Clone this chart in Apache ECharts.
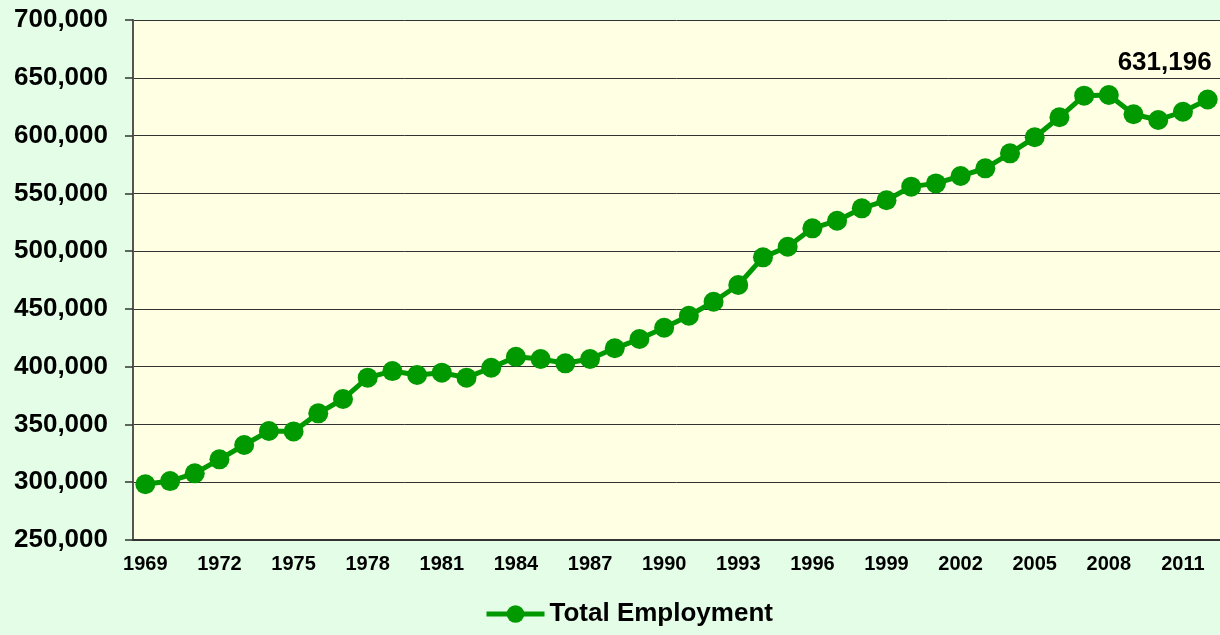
<!DOCTYPE html>
<html>
<head>
<meta charset="utf-8">
<script src="https://cdn.jsdelivr.net/npm/echarts@6/dist/echarts.min.js"></script>
<style>
  html, body { margin: 0; padding: 0; background: #e3fde6; }
  #chart { width: 1220px; height: 635px; }
</style>
</head>
<body>
<div id="chart"></div>
<script>
// years 1969 - 2012
const years = [
  '1969', '1970', '1971', '1972', '1973', '1974', '1975', '1976', '1977', '1978',
  '1979', '1980', '1981', '1982', '1983', '1984', '1985', '1986', '1987', '1988',
  '1989', '1990', '1991', '1992', '1993', '1994', '1995', '1996', '1997', '1998',
  '1999', '2000', '2001', '2002', '2003', '2004', '2005', '2006', '2007', '2008',
  '2009', '2010', '2011', '2012'
]

const totalEmployment = [
  298200, 301000, 307700, 319800, 332200, 344300, 344000, 359600, 372000, 390500,
  396200, 392800, 394800, 390500, 399100, 408500, 406600, 402900, 406600, 415900,
  423900, 433700, 444100, 456200, 470700, 494600, 503800, 519700, 526300, 537000,
  544000, 555800, 558600, 565000, 571600, 584600, 598500, 615800, 634500, 635100,
  618400, 613500, 620600, 631196
]

const fontFamily = '"Liberation Sans", Arial, sans-serif'
const green = '#009900'

const chart = echarts.init(document.getElementById('chart'))

const lastIndex = totalEmployment.length - 1
const seriesData = totalEmployment.map((v, i) => {
  if (i !== lastIndex) return v
  return {
    value: v,
    label: {
      show: true,
      position: 'top',
      distance: 14,
      align: 'right',
      offset: [4, 0],
      formatter: (p) => p.value.toLocaleString('en-US'),
      fontFamily: fontFamily,
      fontWeight: 'bold',
      fontSize: 26,
      color: '#000'
    }
  }
})

const option = {
  backgroundColor: '#e3fde6',
  animation: false,
  grid: {
    left: 133,
    top: 20,
    right: 0,
    bottom: 95,
    show: true,
    backgroundColor: '#ffffe3',
    borderWidth: 0
  },
  legend: {
    data: ['Total Employment'],
    left: 479,
    top: 596,
    itemWidth: 58,
    itemHeight: 22,
    lineStyle: { width: 5 },
    textStyle: {
      fontFamily: fontFamily,
      fontWeight: 'bold',
      fontSize: 26,
      color: '#000'
    }
  },
  xAxis: {
    type: 'category',
    data: years,
    boundaryGap: true,
    axisLine: { lineStyle: { color: '#333', width: 2 } },
    axisTick: { interval: 1, length: 7, lineStyle: { color: '#333', width: 1.5 } },
    axisLabel: {
      interval: 2,
      margin: 14,
      fontFamily: fontFamily,
      fontWeight: 'bold',
      fontSize: 20,
      color: '#000'
    },
    splitLine: { show: false }
  },
  yAxis: {
    type: 'value',
    min: 250000,
    max: 700000,
    interval: 50000,
    axisLine: { show: true, lineStyle: { color: '#555', width: 2 } },
    axisTick: { show: true, length: 8, lineStyle: { color: '#333', width: 1.5 } },
    axisLabel: {
      margin: 25,
      fontFamily: fontFamily,
      fontWeight: 'bold',
      fontSize: 26,
      color: '#000',
      formatter: (v) => v.toLocaleString('en-US')
    },
    splitLine: { lineStyle: { color: '#333', width: 1 } }
  },
  series: [
    {
      name: 'Total Employment',
      type: 'line',
      data: seriesData,
      symbol: 'circle',
      symbolSize: 20,
      showAllSymbol: true,
      lineStyle: { color: green, width: 5 },
      itemStyle: { color: green }
    }
  ]
}

chart.setOption(option)
</script>
</body>
</html>
